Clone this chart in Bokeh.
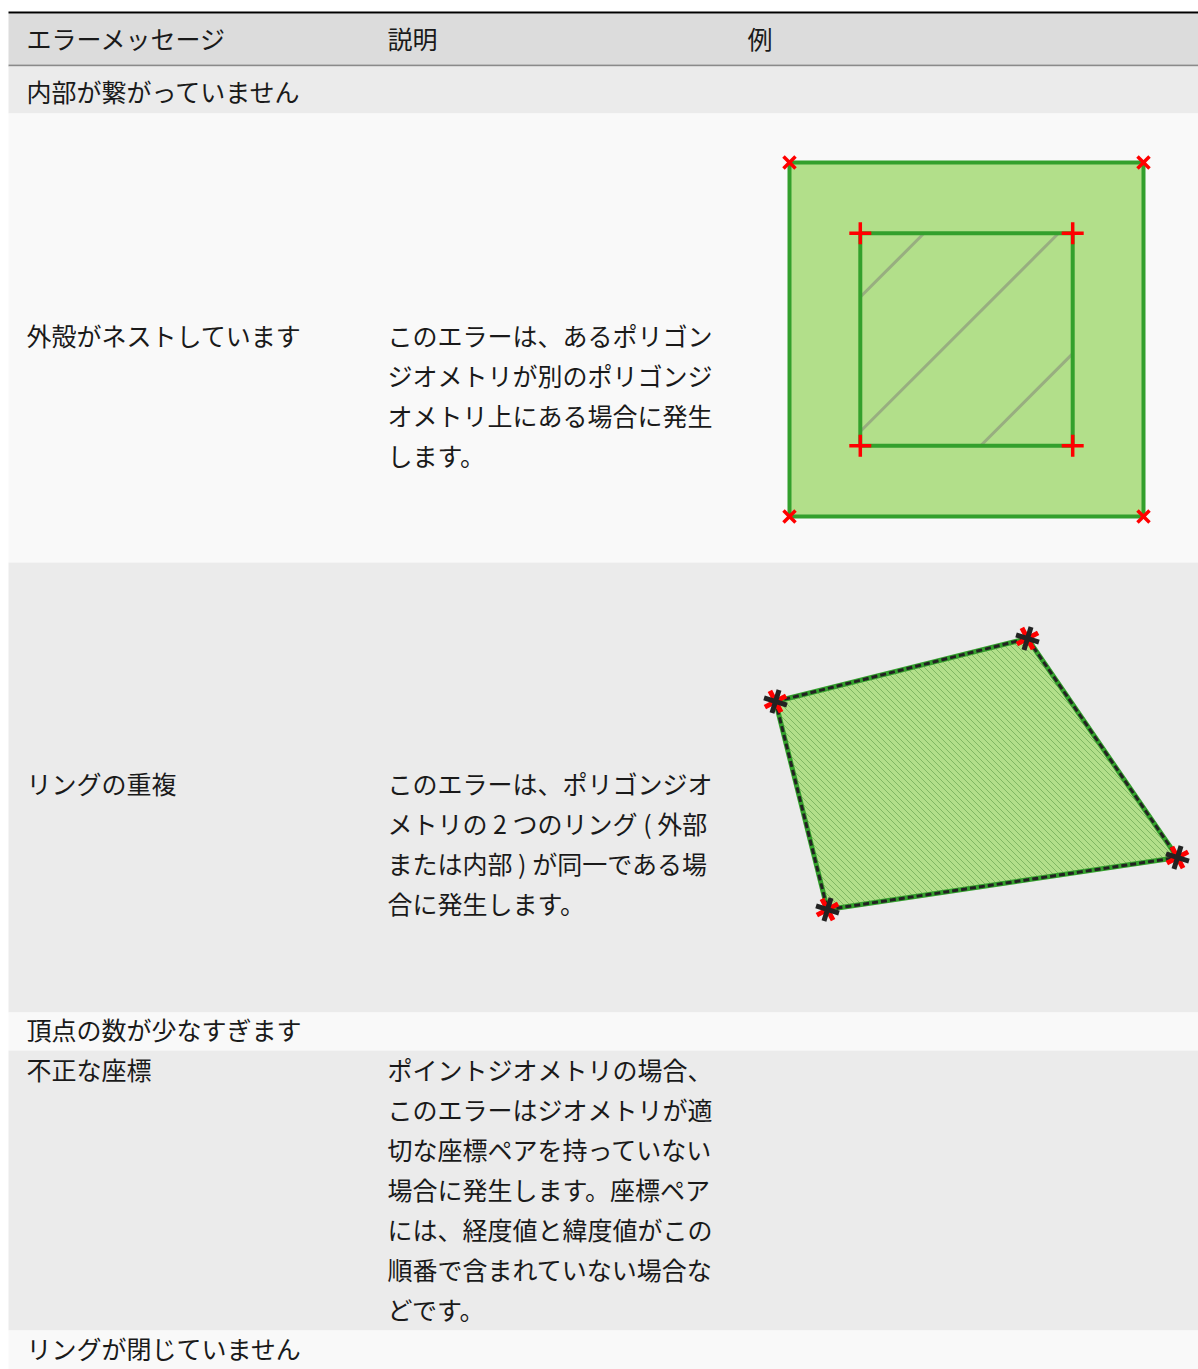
from bokeh.plotting import figure
from bokeh.models import Range1d
from bokeh.core.properties import value
from bokeh.embed import file_html
from bokeh.resources import INLINE

# ---------------- data ----------------
header_labels = ["エラーメッセージ", "説明", "例"]
error_messages = [
    "内部が繋がっていません",
    "外殻がネストしています",
    "リングの重複",
    "頂点の数が少なすぎます",
    "不正な座標",
    "リングが閉じていません",
]
descriptions = [
    [],
    ["このエラーは、あるポリゴン", "ジオメトリが別のポリゴンジ", "オメトリ上にある場合に発生", "します。"],
    ["このエラーは、ポリゴンジオ", "メトリの 2 つのリング ( 外部", "または内部 ) が同一である場", "合に発生します。"],
    [],
    ["ポイントジオメトリの場合、", "このエラーはジオメトリが適", "切な座標ペアを持っていない",
     "場合に発生します。座標ペア", "には、経度値と緯度値がこの", "順番で含まれていない場合な", "どです。"],
    [],
]

# example 1: nested shells (local units)
outer_x = [0, 10, 10, 0]
outer_y = [0, 0, 10, 10]
inner_x = [2, 8, 8, 2]
inner_y = [2, 2, 8, 8]
inner_hatch_offsets = [-4.2, -0.4, 3.4]   # hatch lines u - v = c

# example 2: overlapping rings (local units)
ring_x = [0.0, 25.2, 40.2, 5.2]
ring_y = [20.8, 27.1, 5.2, 0.0]

# ---------------- layout (pixels) ----------------
PAGE_W, PAGE_H = 1198, 1369
T_LEFT = 8
col_x = [26, 387, 747]
header_top, header_bottom = 13, 64
row_bounds = [66, 113, 562, 1012, 1050, 1330, 1369]
row_text_y = [90, 334, 782, 1028, 1068, 1347]
header_text_y = 37
line_h = 40
row_colors = ["#ebebeb", "#f9f9f9"]

FONT = value("Noto Sans CJK JP")
FS = "25px"
TXT = "#1a1a1a"

p = figure(width=PAGE_W, height=PAGE_H,
           x_range=Range1d(0, PAGE_W), y_range=Range1d(PAGE_H, 0),
           output_backend="svg", toolbar_location=None,
           x_axis_location=None, y_axis_location=None, min_border=0)
p.grid.visible = False
p.outline_line_color = None
p.background_fill_color = "white"
p.border_fill_color = "white"

# header
p.quad(left=T_LEFT, right=PAGE_W, top=header_top, bottom=header_bottom,
       fill_color="#dcdcdc", line_color=None)
p.segment(x0=T_LEFT, x1=PAGE_W, y0=12, y1=12, line_color="black", line_width=2)
p.segment(x0=T_LEFT, x1=PAGE_W, y0=65, y1=65, line_color="#8a8a8a", line_width=2)
p.text(x=col_x, y=[header_text_y] * 3, text=header_labels, text_font=FONT, text_font_size=FS,
       text_color=TXT, text_align="left", text_baseline="middle")

# rows
n = len(error_messages)
p.quad(left=[T_LEFT] * n, right=[PAGE_W] * n,
       top=row_bounds[:-1], bottom=row_bounds[1:],
       fill_color=[row_colors[i % 2] for i in range(n)], line_color=None)
p.text(x=[col_x[0]] * n, y=row_text_y, text=error_messages, text_font=FONT,
       text_font_size=FS, text_color=TXT, text_align="left", text_baseline="middle")

dx, dy, dt = [], [], []
for i, lines in enumerate(descriptions):
    for k, ln in enumerate(lines):
        dx.append(col_x[1])
        dy.append(row_text_y[i] + k * line_h)
        dt.append(ln)
p.text(x=dx, y=dy, text=dt, text_font=FONT, text_font_size=FS, text_color=TXT,
       text_align="left", text_baseline="middle")

# ---- example 1: nested shells ----
s1, ox1, oy1 = 35.4, 789, 516
def m1x(u): return [ox1 + s1 * a for a in u]
def m1y(v): return [oy1 - s1 * b for b in v]

p.patch(m1x(outer_x), m1y(outer_y), fill_color="#b2df8a", line_color="#33a02c", line_width=4)
hx0, hx1, hy0, hy1 = [], [], [], []
lo, hi = min(inner_x), max(inner_x)
for c in inner_hatch_offsets:
    v0 = max(lo, lo - c); v1 = min(hi, hi - c)
    hx0.append(v0 + c); hy0.append(v0); hx1.append(v1 + c); hy1.append(v1)
p.segment(x0=m1x(hx0), y0=m1y(hy0), x1=m1x(hx1), y1=m1y(hy1),
          line_color="#98ae80", line_width=3)
p.patch(m1x(inner_x), m1y(inner_y), fill_alpha=0, line_color="#33a02c", line_width=4)
p.scatter(m1x(outer_x), m1y(outer_y), marker="x", size=17, line_color="#ff0000", line_width=3.5)
p.scatter(m1x(inner_x), m1y(inner_y), marker="cross", size=22, line_color="#ff0000", line_width=3.5)

# ---- example 2: overlapping rings ----
s2, ox2, oy2 = 10.0, 775, 909
def m2x(u): return [ox2 + s2 * a for a in u]
def m2y(v): return [oy2 - s2 * b for b in v]

p.patch(m2x(ring_x), m2y(ring_y), fill_color="#b2df8a", line_color="#33a02c", line_width=5)

# diagonal hatch lines (u + v = k) clipped to the convex ring
hatch_step = 0.6
sums = [a + b for a, b in zip(ring_x, ring_y)]
k = min(sums) + hatch_step / 2
gx0, gy0, gx1, gy1 = [], [], [], []
m = len(ring_x)
while k < max(sums):
    pts = []
    for i in range(m):
        ax, ay = ring_x[i], ring_y[i]
        bx, by = ring_x[(i + 1) % m], ring_y[(i + 1) % m]
        fa, fb = ax + ay - k, bx + by - k
        if (fa <= 0 < fb) or (fb <= 0 < fa):
            t = fa / (fa - fb)
            pts.append((ax + t * (bx - ax), ay + t * (by - ay)))
    if len(pts) >= 2:
        gx0.append(pts[0][0]); gy0.append(pts[0][1])
        gx1.append(pts[1][0]); gy1.append(pts[1][1])
    k += hatch_step
p.segment(x0=m2x(gx0), y0=m2y(gy0), x1=m2x(gx1), y1=m2y(gy1),
          line_color="#4e8f3c", line_alpha=0.5, line_width=1)

rx = m2x(ring_x + ring_x[:1]); ry = m2y(ring_y + ring_y[:1])
p.line(rx, ry, line_color="#222222", line_width=3, line_dash="6 3")
p.scatter(m2x(ring_x), m2y(ring_y), marker="x", size=24, line_color="#ff0000", line_width=5, angle=-0.3)
p.scatter(m2x(ring_x), m2y(ring_y), marker="cross", size=24, line_color="#222222", line_width=5, angle=-0.3)

open("out.html", "w").write(file_html(p, INLINE))
